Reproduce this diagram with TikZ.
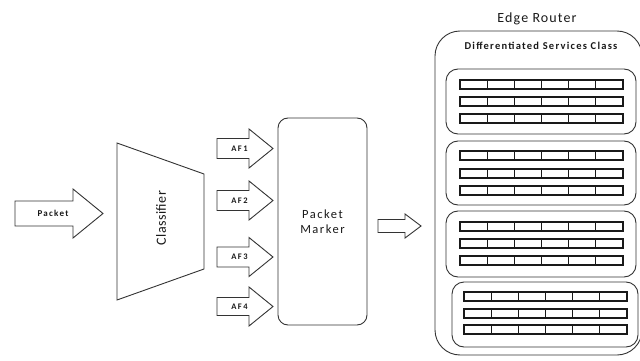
\documentclass[tikz,border=0pt]{standalone}
\usepackage{fontspec}
\setmainfont{Carlito}
\newcommand\fatarr[6]{% x0 xb xt yc halfbody halfhead
  \draw[shp] (#1,{#4-#5}) -- (#2,{#4-#5}) -- (#2,{#4-#6}) -- (#3,#4) -- (#2,{#4+#6}) -- (#2,{#4+#5}) -- (#1,{#4+#5}) -- cycle;}
\newcommand\cellrow[3]{% x0 x1 y
  \draw[cellline] (#1,#3) rectangle (#2,{#3+9});
  \foreach \k in {1,...,5} \draw[cellline] ({#1+\k*(#2-#1)/6},#3) -- ({#1+\k*(#2-#1)/6},{#3+9});}
\begin{document}
\begin{tikzpicture}[x=1pt,y=-1pt,
  shp/.style={draw=black!80, line width=0.9pt},
  cellline/.style={draw=black!90, line width=1.1pt},
  lbl/.style={text=black!90, inner sep=0pt},
  rbox/.style={draw=black!80, line width=0.9pt, rounded corners=#1, inner sep=0pt},
]
\useasboundingbox (0,0) rectangle (640,361);
% packet arrow
\fatarr{15}{73}{103}{213.5}{12.5}{24.5}
\node[lbl, font=\fontsize{9}{10}\selectfont\bfseries\addfontfeature{LetterSpace=14}] (packet) at (53,213.5) {Packet};
% classifier
\draw[shp] (117,143) -- (204,174) -- (204,269) -- (117,300) -- cycle;
\node[lbl, rotate=90, font=\fontsize{14}{16}\selectfont\addfontfeature{LetterSpace=3}] (classifier) at (161,218) {Classifier};
% AF arrows
\fatarr{217}{249}{273}{148.5}{10}{19.5}
\fatarr{217}{249}{273}{200.5}{10}{19.5}
\fatarr{217}{249}{273}{257}{10}{19.5}
\fatarr{217}{249}{273}{306.5}{9}{19.5}
\foreach \i/\y in {1/148.5,2/200.5,3/257,4/306.5}
  \node[lbl, font=\fontsize{8.5}{9}\selectfont\bfseries\addfontfeature{LetterSpace=18}] (af\i) at (239.5,\y) {AF\i};
% packet marker
\node[rbox=10pt, minimum width=89pt, minimum height=207pt] (marker) at (322.5,221.5) {};
\node[lbl, align=center, font=\fontsize{12.5}{15.5}\selectfont\addfontfeature{LetterSpace=12}] (markertext) at (marker.center) {Packet\\Marker};
% small arrow
\fatarr{378}{405}{421}{226}{6.5}{12}
% edge router
\node[lbl, font=\fontsize{14}{16}\selectfont\addfontfeature{LetterSpace=8}] (edgetitle) at (537,19) {Edge Router};
\node[rbox=25pt, minimum width=207pt, minimum height=324pt] (router) at (538.5,193) {};
\node[lbl, font=\fontsize{10.5}{12}\selectfont\bfseries\addfontfeature{LetterSpace=12}] (dsc) at (541,46) {Differentiated Services Class};
% class boxes
\node[rbox=12pt, minimum width=190pt, minimum height=65pt] (c1) at (541,101.5) {};
\node[rbox=12pt, minimum width=190pt, minimum height=64pt] (c2) at (541,173) {};
\node[rbox=12pt, minimum width=190pt, minimum height=66pt] (c3) at (541,244) {};
\node[rbox=12pt, minimum width=186pt, minimum height=65pt] (c4) at (545,314.5) {};
\foreach \y in {80,97,114} {\cellrow{460}{623}{\y}}
\foreach \y in {151,169,186} {\cellrow{460}{623}{\y}}
\foreach \y in {222,239,256} {\cellrow{460}{623}{\y}}
\foreach \y in {292,309,325} {\cellrow{464}{627}{\y}}
\end{tikzpicture}
\end{document}
